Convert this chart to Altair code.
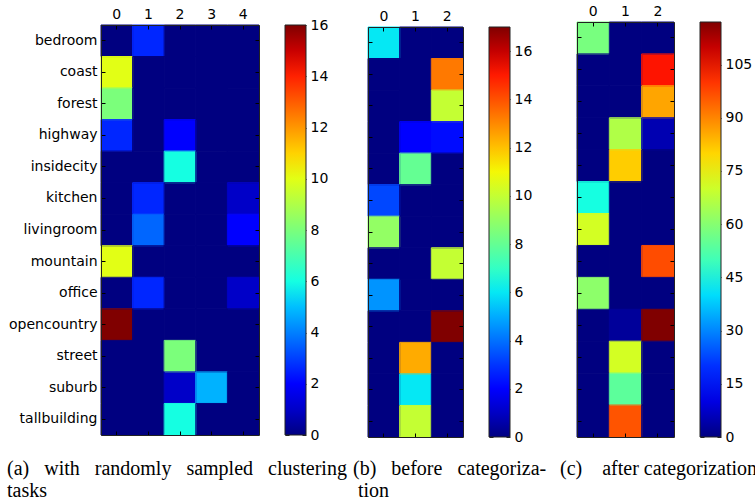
import altair as alt
import numpy as np
import pandas as pd

# ---------------- data ----------------
rows = ["bedroom", "coast", "forest", "highway", "insidecity", "kitchen",
        "livingroom", "mountain", "office", "opencountry", "street", "suburb",
        "tallbuilding"]
cols_a = ["0", "1", "2", "3", "4"]
cols_bc = ["0", "1", "2"]

vals_a = [
    [0, 2.6, 0, 0, 0],
    [10, 0, 0, 0, 0],
    [8, 0, 0, 0, 0],
    [2.6, 0, 2, 0, 0],
    [0, 0, 6, 0, 0],
    [0, 2.6, 0, 0, 1],
    [0, 3.6, 0, 0, 2],
    [10, 0, 0, 0, 0],
    [0, 2.6, 0, 0, 1],
    [16, 0, 0, 0, 0],
    [0, 0, 8, 0, 0],
    [0, 0, 1, 4.8, 0],
    [0, 0, 6, 0, 0],
]
vals_b = [
    [6, 0, 0],
    [0, 0, 13.3],
    [0, 0, 10],
    [0, 2, 2.3],
    [0, 8, 0],
    [3.3, 0, 0],
    [9, 0, 0],
    [0, 0, 10],
    [4.6, 0, 0],
    [0, 0, 17],
    [0, 12.4, 0],
    [0, 6, 0],
    [0, 10, 0],
]
vals_c = [
    [58, 0, 0],
    [0, 0, 104],
    [0, 0, 86],
    [0, 66, 5],
    [0, 81, 0],
    [44, 0, 0],
    [71, 0, 0],
    [0, 0, 97],
    [61, 0, 0],
    [0, 2.6, 117],
    [0, 71, 0],
    [0, 54, 0],
    [0, 96, 0],
]
vmax_a, vmax_b, vmax_c = 16, 17, 117
ticks_a = [0, 2, 4, 6, 8, 10, 12, 14, 16]
ticks_b = [0, 2, 4, 6, 8, 10, 12, 14, 16]
ticks_c = [0, 15, 30, 45, 60, 75, 90, 105]

captions = {
    "a1": ["(a)", "with", "randomly", "sampled", "clustering"],
    "a2": ["tasks"],
    "b1": ["(b)", "before", "categoriza-"],
    "b2": ["tion"],
    "c1": ["(c)", "after categorization"],
}

# ---------------- jet colormap ----------------
def jet_colors(n=65):
    t = np.linspace(0, 1, n)
    r = np.interp(t, [0, 0.35, 0.66, 0.89, 1], [0, 0, 1, 1, 0.5])
    g = np.interp(t, [0, 0.125, 0.375, 0.64, 0.91, 1], [0, 0, 1, 1, 0, 0])
    b = np.interp(t, [0, 0.11, 0.34, 0.65, 1], [0.5, 1, 1, 0, 0])
    return ["#%02x%02x%02x" % (int(round(a * 255)), int(round(c * 255)), int(round(d * 255)))
            for a, c, d in zip(r, g, b)]

JET = jet_colors()
W, H = 755, 504
SANS = "DejaVu Sans"
SERIF = "Liberation Serif"
FS = 14
BORDER = "#222222"
CBW = 21


def long_df(mat, cols):
    return pd.DataFrame([{"row": r, "col": c, "v": mat[i][j]}
                         for i, r in enumerate(rows) for j, c in enumerate(cols)])


def panel(mat, cols, xr, yr, vmax, ticks, cbx, show_rows):
    df = long_df(mat, cols)
    xs = alt.Scale(domain=cols, range=xr, paddingInner=0, paddingOuter=0)
    ys = alt.Scale(domain=rows, range=yr, paddingInner=0, paddingOuter=0)
    base = alt.Chart(df)

    yaxis = alt.Axis(orient="left", offset=-xr[0], ticks=False, tickSize=0, grid=False,
                     domain=False, labelPadding=4, title=None, labelFont=SANS,
                     labelFontSize=FS, labelColor="black", labelLimit=200) if show_rows else None
    heat = base.mark_rect().encode(
        x=alt.X("col:N", scale=xs,
                axis=alt.Axis(orient="top", offset=-yr[0], ticks=False, tickSize=0,
                              grid=False, domain=False, labelAngle=0, labelPadding=4,
                              title=None, labelFont=SANS, labelFontSize=FS,
                              labelColor="black")),
        y=alt.Y("row:N", scale=ys, axis=yaxis),
        color=alt.Color("v:Q",
                        scale=alt.Scale(domain=[0, vmax], range=JET, interpolate="rgb"),
                        legend=alt.Legend(orient="none", legendX=cbx,
                                          legendY=yr[0], direction="vertical", title=None,
                                          gradientLength=yr[1] - yr[0],
                                          gradientThickness=CBW,
                                          gradientStrokeColor="#222222",
                                          gradientStrokeWidth=1,
                                          values=ticks, labelExpr="''",
                                          labelFontSize=FS, padding=0)),
    )
    # outline each cell in its own colour to hide anti-aliasing seams
    seams = base.mark_rect(filled=False, strokeWidth=1).encode(
        x=alt.X("col:N", scale=xs, axis=None),
        y=alt.Y("row:N", scale=ys, axis=None),
        stroke=alt.Stroke("v:Q",
                          scale=alt.Scale(domain=[0, vmax], range=JET, interpolate="rgb"),
                          legend=None),
    )

    common = dict(bandPosition=0.5, labels=False, title=None, tickSize=4, grid=False,
                  tickColor="black", domainColor=BORDER, domainWidth=1)
    # top border + left border with inward ticks
    edge1 = base.mark_rect(opacity=0).encode(
        x=alt.X("col:N", scale=xs, axis=alt.Axis(orient="bottom", offset=yr[0] - H, **common)),
        y=alt.Y("row:N", scale=ys, axis=alt.Axis(orient="right", offset=xr[0] - W, **common)),
    )
    # bottom border + right border with inward ticks
    edge2 = base.mark_rect(opacity=0).encode(
        x=alt.X("col:N", scale=xs, axis=alt.Axis(orient="top", offset=-yr[1], **common)),
        y=alt.Y("row:N", scale=ys, axis=alt.Axis(orient="left", offset=-xr[1], **common)),
    )

    # colour-bar labels and small inward ticks on both sides of the bar
    tdf = pd.DataFrame({"t": ticks})
    tscale = alt.Scale(domain=[0, vmax], range=[yr[1], yr[0]])
    tcommon = dict(values=ticks, labels=False, title=None, tickSize=4, grid=False,
                   domain=False, tickColor="#222222")
    cb1 = alt.Chart(tdf).mark_point(opacity=0).encode(
        y=alt.Y("t:Q", scale=tscale, axis=alt.Axis(orient="right", offset=cbx - W, **tcommon)))
    cb2 = alt.Chart(tdf).mark_point(opacity=0).encode(
        y=alt.Y("t:Q", scale=tscale, axis=alt.Axis(orient="left", offset=-(cbx + CBW), **tcommon)))
    cb3 = alt.Chart(tdf).mark_point(opacity=0).encode(
        y=alt.Y("t:Q", scale=tscale,
                axis=alt.Axis(orient="right", offset=cbx + CBW - W, values=ticks,
                              ticks=False, tickSize=0, domain=False, grid=False,
                              title=None, labelPadding=4, labelFlush=False,
                              labelFont=SANS, labelFontSize=FS, labelColor="black",
                              labelBaseline="middle", labelAlign="left")))
    return [heat, seams, edge1, edge2, cb1, cb2, cb3]


layers = []
layers += panel(vals_a, cols_a, [101, 259], [25, 435], vmax_a, ticks_a, 285, True)
layers += panel(vals_b, cols_bc, [368, 463], [27, 437], vmax_b, ticks_b, 489, False)
layers += panel(vals_c, cols_bc, [577, 674], [22, 437], vmax_c, ticks_c, 700, False)

NB3 = "\u00a0\u00a0\u00a0"
NB4 = "\u00a0\u00a0\u00a0\u00a0"


def caption(words, sep, x, y):
    txt = sep.join(words)
    return alt.Chart(pd.DataFrame({"t": [txt]})).mark_text(
        align="left", baseline="alphabetic", font=SERIF, fontSize=20, color="black"
    ).encode(text="t:N", x=alt.value(x), y=alt.value(y))


layers += [
    caption(captions["a1"], NB3, 7, 475),
    caption(captions["a2"], NB3, 7, 497),
    caption(captions["b1"], NB3, 353, 475),
    caption(captions["b2"], NB3, 358, 497),
    caption(captions["c1"], NB4, 560, 475),
]

chart = alt.layer(*layers).resolve_scale(
    x="independent", y="independent", color="independent", stroke="independent"
).resolve_axis(
    x="independent", y="independent"
).resolve_legend(
    color="independent", stroke="independent"
).properties(
    width=W, height=H, padding=0, autosize=alt.AutoSizeParams(type="none"),
    background="white"
).configure_view(stroke=None)

chart.save("out.html", embed_options={"renderer": "svg", "actions": False})
